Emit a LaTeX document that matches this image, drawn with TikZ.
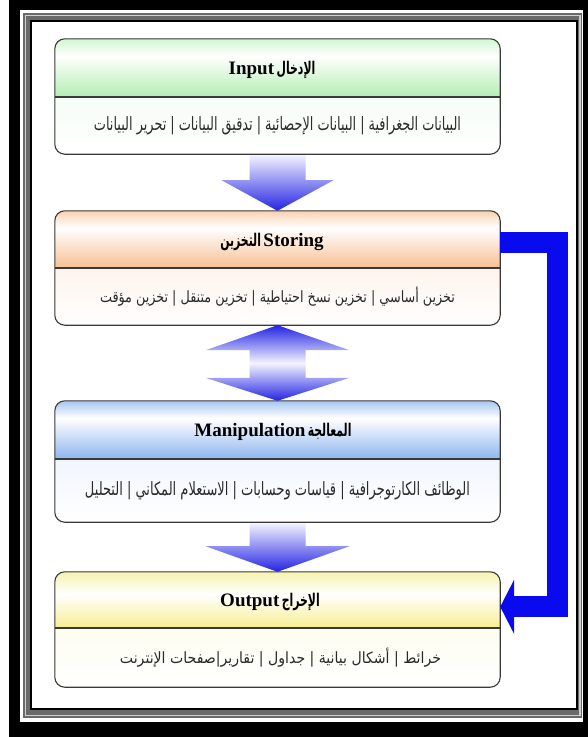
\documentclass[tikz,border=0pt]{standalone}
\usepackage{fontspec}
\usepackage{graphicx}
\setmainfont{Liberation Serif}
\newfontfamily\arabicfont[Script=Arabic]{DejaVu Sans}
\TeXXeTstate=1
\usetikzlibrary{calc,arrows.meta}

\definecolor{gT}{HTML}{D2F6D2}\definecolor{gB}{HTML}{B2EDB2}\definecolor{gBody}{HTML}{EDFAED}
\definecolor{oT}{HTML}{F9D1B0}\definecolor{oB}{HTML}{F7BF93}\definecolor{oBody}{HTML}{FCE9DA}
\definecolor{bT}{HTML}{A7C7F0}\definecolor{bB}{HTML}{8EB5EE}\definecolor{bBody}{HTML}{E4EEFB}
\definecolor{yT}{HTML}{F6F4AE}\definecolor{yB}{HTML}{F7EE90}\definecolor{yBody}{HTML}{FCFBE2}
\definecolor{aT}{HTML}{F2F2FF}\definecolor{aB}{HTML}{2424E4}\definecolor{aW}{HTML}{F4F4FF}
\definecolor{connblue}{HTML}{0A0AEE}
\definecolor{boxline}{HTML}{3A3A3A}
\definecolor{frgray}{HTML}{6A6A6A}\definecolor{frlight}{HTML}{CFCFCF}
\definecolor{subtxt}{HTML}{2A2A2A}

\pgfdeclareverticalshading{hdrG}{100bp}{color(0bp)=(gB); color(25bp)=(gB); color(60bp)=(white); color(75bp)=(gT); color(100bp)=(gT)}
\pgfdeclareverticalshading{hdrO}{100bp}{color(0bp)=(oB); color(25bp)=(oB); color(60bp)=(white); color(75bp)=(oT); color(100bp)=(oT)}
\pgfdeclareverticalshading{hdrB}{100bp}{color(0bp)=(bB); color(25bp)=(bB); color(60bp)=(white); color(75bp)=(bT); color(100bp)=(bT)}
\pgfdeclareverticalshading{hdrY}{100bp}{color(0bp)=(yB); color(25bp)=(yB); color(55bp)=(white); color(75bp)=(yT); color(100bp)=(yT)}
\pgfdeclareverticalshading{arrD}{100bp}{color(0bp)=(aB); color(25bp)=(aB); color(75bp)=(aT); color(100bp)=(aT)}
\pgfdeclareverticalshading{arrUD}{100bp}{color(0bp)=(aB); color(25bp)=(aB); color(50bp)=(aW); color(75bp)=(aB); color(100bp)=(aB)}

\newcommand\latitle{\fontsize{19}{21}\selectfont\bfseries}
\newcommand\artitle[1]{\scalebox{0.62}[1]{\arabicfont\fontsize{17.5}{19}\selectfont\bfseries #1}}
\newcommand\arsub[3]{\resizebox{#1}{#2}{\arabicfont #3}}

\begin{document}
\begin{tikzpicture}[x=1pt,y=-1pt,
  boxfr/.style={rectangle, minimum width=445pt, inner sep=0pt},
  border/.style={draw=boxline, line width=1.1pt, rounded corners=10pt},
  divider/.style={draw=boxline, line width=1.1pt},
  titletext/.style={inner sep=0pt, text=black},
  subtext/.style={inner sep=0pt, text=subtxt},
  conn/.style={draw=connblue, line width=21pt, line join=miter, -{Triangle[length=14pt,width=54pt]}}
]
\useasboundingbox (0,0) rectangle (588,737);
% frame
\fill[white] (0,0) rectangle (588,737);
\fill[black] (9,0) rectangle (588,737);
\fill[white] (20,10) rectangle (583,722);
\fill[frgray] (23,13) rectangle (582,718);
\draw[frlight, line width=1.6pt] (25.5,15.5) rectangle (579.8,715.5);
\fill[black] (29.5,19.5) rectangle (578,710);
\fill[white] (31.5,21.5) rectangle (576,708);

% ---------- Input
\node[boxfr, minimum height=115pt] (inp) at (277.5,96.5) {};
\shade[top color=gBody, bottom color=white, rounded corners=10pt] (inp.north west) rectangle (inp.south east);
\begin{scope}
\clip[rounded corners=10pt] (inp.north west) rectangle (inp.south east);
\shade[shading=hdrG] (inp.north west) rectangle (500,97);
\end{scope}
\draw[divider] (55,97) -- (500,97);
\draw[border] (inp.north west) rectangle (inp.south east);
\node[titletext] (inpT) at (272,70) {{\latitle Input}\ \artitle{\beginR الإدخال\endR}};
\node[subtext] (inpS) at (277.5,126) {\arsub{367pt}{14pt}{\beginR البيانات الجغرافية | البيانات الإحصائية | تدقيق البيانات | تحرير البيانات\endR}};

% ---------- Storing
\node[boxfr, minimum height=114pt] (sto) at (277.5,268) {};
\shade[top color=oBody, bottom color=white, rounded corners=10pt] (sto.north west) rectangle (sto.south east);
\begin{scope}
\clip[rounded corners=10pt] (sto.north west) rectangle (sto.south east);
\shade[shading=hdrO] (sto.north west) rectangle (500,268);
\end{scope}
\draw[divider] (55,268) -- (500,268);
\draw[border] (sto.north west) rectangle (sto.south east);
\node[titletext] (stoT) at (272,241.5) {\artitle{\beginR التخزين\endR}\ {\latitle Storing}};
\node[subtext] (stoS) at (277.5,297) {\arsub{355pt}{15.5pt}{\beginR تخزين أساسي | تخزين نسخ احتياطية | تخزين متنقل | تخزين مؤقت\endR}};

% ---------- Manipulation
\node[boxfr, minimum height=121pt] (man) at (277.5,461.5) {};
\shade[top color=bBody, bottom color=white, rounded corners=10pt] (man.north west) rectangle (man.south east);
\begin{scope}
\clip[rounded corners=10pt] (man.north west) rectangle (man.south east);
\shade[shading=hdrB] (man.north west) rectangle (500,459);
\end{scope}
\draw[divider] (55,459) -- (500,459);
\draw[border] (man.north west) rectangle (man.south east);
\node[titletext] (manT) at (273,432) {{\latitle Manipulation}\ \artitle{\beginR المعالجة\endR}};
\node[subtext] (manS) at (277.5,491) {\arsub{385pt}{14pt}{\beginR الوظائف الكارتوجرافية | قياسات وحسابات | الاستعلام المكاني | التحليل\endR}};

% ---------- Output
\node[boxfr, minimum height=115pt] (out) at (277.5,629.5) {};
\shade[top color=yBody, bottom color=white, rounded corners=10pt] (out.north west) rectangle (out.south east);
\begin{scope}
\clip[rounded corners=10pt] (out.north west) rectangle (out.south east);
\shade[shading=hdrY] (out.north west) rectangle (500,628);
\end{scope}
\draw[divider] (55,628) -- (500,628);
\draw[border] (out.north west) rectangle (out.south east);
\node[titletext] (outT) at (270,602) {{\latitle Output}\ \artitle{\beginR الإخراج\endR}};
\node[subtext] (outS) at (280.5,658) {\arsub{321pt}{15.5pt}{\beginR خرائط | أشكال بيانية | جداول | تقارير|صفحات الإنترنت\endR}};

% ---------- block arrows
\shade[shading=arrD] ($(inp.south)+(-28,1)$) -- ($(inp.south)+(28,1)$) -- ($(inp.south)+(28,26)$) -- ($(inp.south)+(56,26)$)
  -- (sto.north) -- ($(inp.south)+(-56,26)$) -- ($(inp.south)+(-28,26)$) -- cycle;
\shade[shading=arrUD] (sto.south) -- ($(sto.south)+(72,25)$) -- ($(sto.south)+(28,25)$) -- ($(man.north)+(28,-23)$)
  -- ($(man.north)+(72,-23)$) -- (man.north) -- ($(man.north)+(-72,-23)$) -- ($(man.north)+(-28,-23)$)
  -- ($(sto.south)+(-28,25)$) -- ($(sto.south)+(-72,25)$) -- cycle;
\shade[shading=arrD] ($(man.south)+(-28,1)$) -- ($(man.south)+(28,1)$) -- ($(man.south)+(28,24)$) -- ($(man.south)+(72,24)$)
  -- (out.north) -- ($(man.south)+(-72,24)$) -- ($(man.south)+(-28,24)$) -- cycle;

% ---------- feedback connector
\draw[conn] ($(sto.north east)+(0,31.5)$) -- ++(57.5,0) |- ($(out.north east)+(0,35)$);
\end{tikzpicture}
\end{document}
